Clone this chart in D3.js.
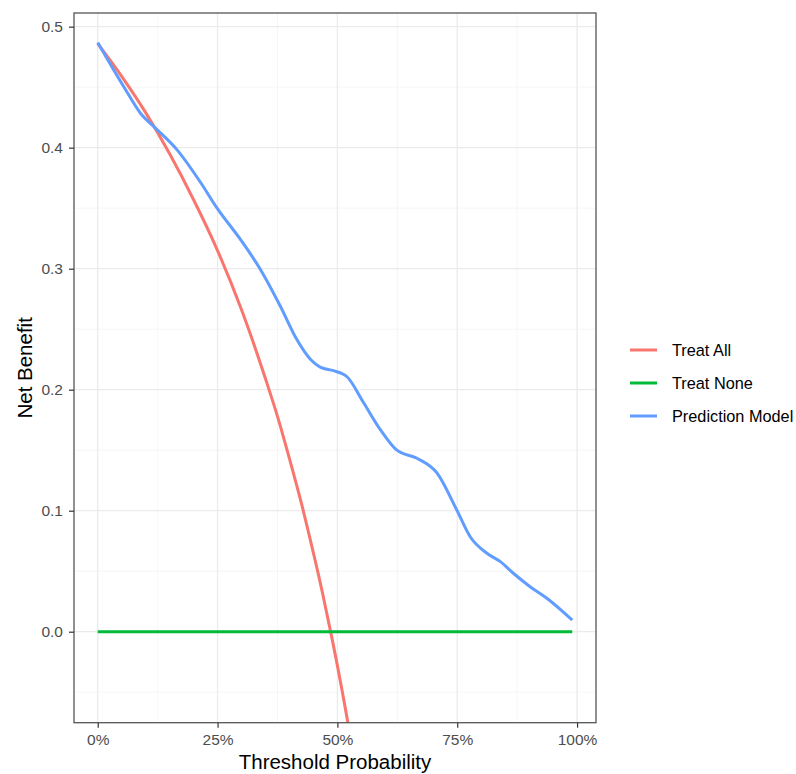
<!DOCTYPE html>
<html>
<head>
<meta charset="utf-8">
<script src="https://cdn.jsdelivr.net/npm/d3@7"></script>
<style>
  html, body { margin: 0; padding: 0; background: #fff; }
  svg { display: block; font-family: "Liberation Sans", Arial, sans-serif; }
</style>
</head>
<body>
<svg id="chart" width="796" height="774"></svg>
<script>
// ---- data ----
const seriesNames = ["Treat All", "Treat None", "Prediction Model"];
const seriesColors = ["#F8766D", "#00BA38", "#619CFF"];

const treatAllThreshold = [0, 0.05, 0.10, 0.15, 0.20, 0.25, 0.30, 0.35, 0.375, 0.40, 0.425, 0.45, 0.46, 0.47, 0.48, 0.49, 0.50, 0.51, 0.52, 0.53];
const treatAllBenefit   = [0.486, 0.459, 0.429, 0.395, 0.357, 0.315, 0.266, 0.209, 0.178, 0.143, 0.106, 0.065, 0.048, 0.030, 0.011, -0.008, -0.028, -0.049, -0.071, -0.094];

const treatNoneThreshold = [0, 0.99];
const treatNoneBenefit   = [0, 0];

const modelThreshold = [0, 0.055, 0.09, 0.121, 0.166, 0.215, 0.249, 0.298, 0.34, 0.381, 0.416, 0.444, 0.465, 0.492, 0.52, 0.555, 0.59, 0.624, 0.666, 0.708, 0.749, 0.777, 0.812, 0.84, 0.867, 0.902, 0.937, 0.99];
const modelBenefit     = [0.487, 0.450, 0.428, 0.416, 0.398, 0.371, 0.350, 0.324, 0.299, 0.269, 0.241, 0.225, 0.2185, 0.2157, 0.2107, 0.189, 0.1667, 0.150, 0.1433, 0.131, 0.1006, 0.0785, 0.0648, 0.0579, 0.0483, 0.0372, 0.0276, 0.0095];

const xTicks = [0, 0.25, 0.5, 0.75, 1.0];
const xMinor = [0.125, 0.375, 0.625, 0.875];
const yTicks = [0.0, 0.1, 0.2, 0.3, 0.4, 0.5];
const yMinor = [-0.05, 0.05, 0.15, 0.25, 0.35, 0.45];

const xTitle = "Threshold Probability";
const yTitle = "Net Benefit";

// ---- layout ----
const svg = d3.select("#chart");
const panel = { left: 74, top: 13, right: 596, bottom: 722.7 };

const x = d3.scaleLinear().domain([-0.0495, 1.0395]).range([panel.left, panel.right]);
const y = d3.scaleLinear().domain([-0.0752, 0.5113]).range([panel.bottom, panel.top]);

svg.append("defs").append("clipPath").attr("id", "clip")
  .append("rect")
  .attr("x", panel.left).attr("y", panel.top)
  .attr("width", panel.right - panel.left).attr("height", panel.bottom - panel.top);

// grid
const grid = svg.append("g");
grid.selectAll(".ymin").data(yMinor).join("line")
  .attr("x1", panel.left).attr("x2", panel.right)
  .attr("y1", d => y(d)).attr("y2", d => y(d))
  .attr("stroke", "#F2F2F2").attr("stroke-width", 0.7);
grid.selectAll(".xmin").data(xMinor).join("line")
  .attr("y1", panel.top).attr("y2", panel.bottom)
  .attr("x1", d => x(d)).attr("x2", d => x(d))
  .attr("stroke", "#F2F2F2").attr("stroke-width", 0.7);
grid.selectAll(".ymaj").data(yTicks).join("line")
  .attr("x1", panel.left).attr("x2", panel.right)
  .attr("y1", d => y(d)).attr("y2", d => y(d))
  .attr("stroke", "#EBEBEB").attr("stroke-width", 1.3);
grid.selectAll(".xmaj").data(xTicks).join("line")
  .attr("y1", panel.top).attr("y2", panel.bottom)
  .attr("x1", d => x(d)).attr("x2", d => x(d))
  .attr("stroke", "#EBEBEB").attr("stroke-width", 1.3);

// lines
const line = d3.line().x(d => x(d[0])).y(d => y(d[1])).curve(d3.curveMonotoneX);
const seriesData = [
  d3.zip(treatAllThreshold, treatAllBenefit),
  d3.zip(treatNoneThreshold, treatNoneBenefit),
  d3.zip(modelThreshold, modelBenefit)
];
const lines = svg.append("g").attr("clip-path", "url(#clip)");
seriesData.forEach((data, i) => {
  lines.append("path")
    .datum(data)
    .attr("d", line)
    .attr("fill", "none")
    .attr("stroke", seriesColors[i])
    .attr("stroke-width", 3)
    .attr("stroke-linejoin", "round");
});

// panel border
svg.append("rect")
  .attr("x", panel.left).attr("y", panel.top)
  .attr("width", panel.right - panel.left).attr("height", panel.bottom - panel.top)
  .attr("fill", "none").attr("stroke", "#555555").attr("stroke-width", 1.3);

// axes
const xAxis = d3.axisBottom(x).tickValues(xTicks).tickSize(5).tickPadding(3)
  .tickFormat(d3.format(".0%"));
const yAxis = d3.axisLeft(y).tickValues(yTicks).tickSize(5).tickPadding(6)
  .tickFormat(d3.format(".1f"));

const gx = svg.append("g").attr("transform", `translate(0,${panel.bottom})`).call(xAxis);
const gy = svg.append("g").attr("transform", `translate(${panel.left},0)`).call(yAxis);
[gx, gy].forEach(g => {
  g.select(".domain").remove();
  g.selectAll(".tick line").attr("stroke", "#333333").attr("stroke-width", 1.2);
  g.selectAll(".tick text")
    .attr("fill", "#4D4D4D")
    .style("font-size", "15.5px")
    .style("font-family", "'Liberation Sans', Arial, sans-serif");
});
gx.selectAll(".tick text").attr("dy", "0.95em");

// axis titles
svg.append("text")
  .attr("x", (panel.left + panel.right) / 2).attr("y", 769)
  .attr("text-anchor", "middle")
  .style("font-size", "20.5px").attr("fill", "#000")
  .text(xTitle);
svg.append("text")
  .attr("transform", `translate(32,${(panel.top + panel.bottom) / 2}) rotate(-90)`)
  .attr("text-anchor", "middle")
  .style("font-size", "20.5px").attr("fill", "#000")
  .text(yTitle);

// legend
const legend = svg.append("g");
const legendY = [350, 383, 416];
seriesNames.forEach((name, i) => {
  legend.append("line")
    .attr("x1", 630).attr("x2", 657)
    .attr("y1", legendY[i]).attr("y2", legendY[i])
    .attr("stroke", seriesColors[i]).attr("stroke-width", 3);
  legend.append("text")
    .attr("x", 672).attr("y", legendY[i]).attr("dy", "0.35em")
    .style("font-size", "16.3px").attr("fill", "#000")
    .text(name);
});
</script>
</body>
</html>
